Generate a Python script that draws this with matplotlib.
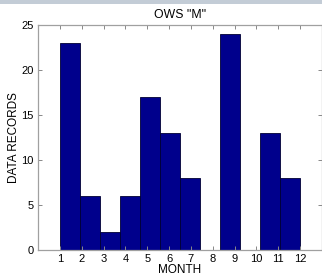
import numpy as np
import matplotlib
matplotlib.use("Agg")
import matplotlib.pyplot as plt
from matplotlib.patches import Rectangle

# records per month (hist with 12 bins over 1..12)
months = list(range(1, 13))
records = [23, 6, 2, 6, 17, 13, 8, 0, 24, 0, 13, 8]
yticks = [0, 5, 10, 15, 20, 25]

plt.rcParams['font.family'] = ['Liberation Sans', 'DejaVu Sans']

W, H = 322, 277
fig = plt.figure(figsize=(W / 100, H / 100), dpi=100)
fig.patch.set_facecolor('white')

# thin textured strip along the top of the picture
fig.add_artist(Rectangle((0, 1 - 4 / H), 1, 4 / H, transform=fig.transFigure,
                         facecolor='#c3ccd6', edgecolor='none'))

ax = fig.add_axes([38 / W, 1 - 250 / H, (W - 38) / W, 225 / H])

# bin edges like matlab hist(x, 12)
edges = np.linspace(min(months), max(months), len(months) + 1)
ax.bar(edges[:-1], records, width=np.diff(edges), align='edge',
       color='#00008c', edgecolor='#000033', linewidth=0.6)

ax.set_xlim(0, 13)
ax.set_ylim(0, 25)
ax.set_xticks(months)
ax.set_yticks(yticks)
ax.tick_params(direction='in', length=3, width=0.7, color='#888888',
               labelsize=8, top=True, right=True, pad=3)
for s in ax.spines.values():
    s.set_color('#a0a0a0')
    s.set_linewidth(0.9)

ax.set_title('OWS "M"', fontsize=8.8, pad=5)
ax.set_xlabel('MONTH', fontsize=8.5, labelpad=0)
ax.set_ylabel('DATA RECORDS', fontsize=8.5, labelpad=1)

fig.savefig('out.png', dpi=100)
